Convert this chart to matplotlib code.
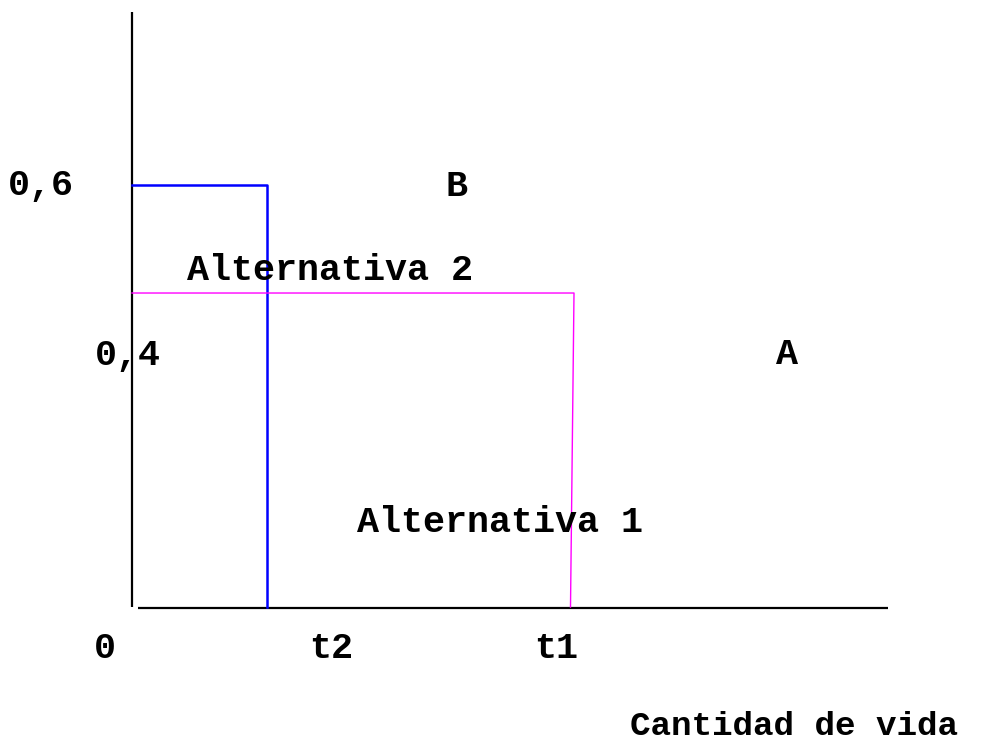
import matplotlib
matplotlib.use('Agg')
from matplotlib import pyplot as plt

# Schematic data: quality of life (y) vs quantity of life (x)
alt2_x = [0, 1.345, 1.345]
alt2_y = [0.6, 0.6, 0]
alt1_x = [0, 4.42, 4.385]
alt1_y = [0.446, 0.446, 0]

W, H = 983, 746
x0_px, y0_px = 132, 607
sx, sy = 100.0, 704.0  # pixels per data unit

fig = plt.figure(figsize=(W / 100, H / 100), dpi=100)
ax = fig.add_axes([0, 0, 1, 1])
ax.set_xlim(-x0_px / sx, (W - x0_px) / sx)
ax.set_ylim(-(H - y0_px) / sy, y0_px / sy)
ax.axis('off')

# axes lines
ax.plot([0, 0], [0, 0.845], color='black', lw=1.6, solid_capstyle='butt')
ax.plot([0.06, 7.56], [-0.001, -0.001], color='black', lw=1.6, solid_capstyle='butt')

ax.plot(alt2_x, alt2_y, color='#0000ff', lw=1.8)
ax.plot(alt1_x, alt1_y, color='#ff00ff', lw=1.0)

font = dict(family='Liberation Mono', weight='bold', color='black')


def label(px, py, s, size=26.5, va='center'):
    ax.text((px - x0_px) / sx, (y0_px - py) / sy, s, ha='center', va=va,
            fontsize=size, **font)


label(41, 186, '0,6')
label(456, 186, 'B')
label(330, 270, 'Alternativa 2')
label(128, 355, '0,4')
label(787, 355, 'A')
label(500, 523, 'Alternativa 1')
label(105, 648, '0')
label(331, 648, 't2')
label(556, 648, 't1')
label(794, 735, 'Cantidad de vida', size=24.7, va='baseline')

fig.savefig('out.png', dpi=100)
